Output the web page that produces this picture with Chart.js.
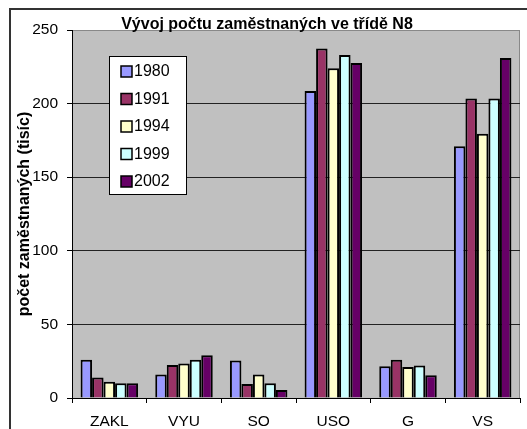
<!DOCTYPE html>
<html>
<head>
<meta charset="utf-8">
<script src="https://cdn.jsdelivr.net/npm/chart.js@4/dist/chart.umd.min.js"></script>
<style>
  html, body { margin: 0; padding: 0; background: #fff; }
  #wrap { width: 527px; height: 429px; position: relative; }
</style>
</head>
<body>
<div id="wrap"><canvas id="myChart" width="527" height="429"></canvas></div>
<script>
const categories = ["ZAKL", "VYU", "SO", "USO", "G", "VS"];
const years = ["1980", "1991", "1994", "1999", "2002"];
const v1980 = [26, 16, 25.5, 208.5, 21.5, 171];
const v1991 = [14, 22.5, 9.5, 237.5, 26, 203.5];
const v1994 = [11, 23.5, 16, 224, 21, 179.5];
const v1999 = [10, 26, 10, 233, 22, 203.5];
const v2002 = [10, 29, 5.5, 227.5, 15.5, 231];
const yTicks = [0, 50, 100, 150, 200, 250];
const colors = ["#9999FF", "#993366", "#FFFFCC", "#CCFFFF", "#660066"];

const FONT = "'Liberation Sans', Arial, sans-serif";
Chart.defaults.font.family = FONT;
Chart.defaults.color = "#000";

// gray plot background, outer frame, title and the boxed legend
const decor = {
  id: 'decor',
  beforeDraw(chart) {
    const c = chart.ctx, a = chart.chartArea;
    c.save();
    c.fillStyle = '#fff';
    c.fillRect(0, 0, chart.width, chart.height);
    c.strokeStyle = '#333';
    c.lineWidth = 2;
    c.strokeRect(10, 9, 700, 700);
    c.fillStyle = '#C0C0C0';
    c.fillRect(a.left, a.top, a.right - a.left, a.bottom - a.top);
    c.strokeStyle = '#888';
    c.lineWidth = 1;
    c.beginPath();
    c.moveTo(a.left, a.top + 0.5);
    c.lineTo(a.right - 0.5, a.top + 0.5);
    c.lineTo(a.right - 0.5, a.bottom);
    c.stroke();
    c.restore();
  },
  afterDraw(chart) {
    const c = chart.ctx;
    c.save();
    c.fillStyle = '#000';
    c.font = 'bold 16px ' + FONT;
    c.textAlign = 'center';
    c.textBaseline = 'alphabetic';
    c.fillText('Vývoj počtu zaměstnaných ve třídě N8', 267, 29);

    // legend
    c.fillStyle = '#fff';
    c.fillRect(109, 56, 77, 138);
    c.strokeStyle = '#000';
    c.lineWidth = 1;
    c.strokeRect(109.5, 56.5, 77, 138);
    c.font = '16px ' + FONT;
    c.textAlign = 'left';
    c.textBaseline = 'middle';
    chart.data.datasets.forEach((ds, i) => {
      const y = 71 + i * 27.5;
      c.fillStyle = ds.backgroundColor;
      c.fillRect(121, y - 5, 11, 11);
      c.strokeStyle = '#000';
      c.lineWidth = 1.5;
      c.strokeRect(121, y - 5, 11, 11);
      c.fillStyle = '#000';
      c.fillText(ds.label, 134, y + 1);
    });
    c.restore();
  }
};

const seriesValues = [v1980, v1991, v1994, v1999, v2002];
const datasets = years.map((y, i) => ({
  label: y,
  data: seriesValues[i],
  backgroundColor: colors[i],
  borderColor: '#000',
  borderWidth: 2,
  borderSkipped: 'bottom',
  categoryPercentage: 0.77,
  barPercentage: 1.0
}));

var ctx = document.getElementById('myChart').getContext('2d');
var chart = new Chart(ctx, {
  type: 'bar',
  data: { labels: categories, datasets: datasets },
  plugins: [decor],
  options: {
    responsive: false,
    animation: false,
    layout: { padding: { top: 30, right: 7, left: 0, bottom: 0 } },
    plugins: {
      legend: { display: false },
      title: { display: false },
      tooltip: { enabled: false }
    },
    scales: {
      x: {
        offset: true,
        grid: {
          offset: true,
          drawOnChartArea: false,
          drawTicks: true,
          tickLength: 5,
          color: '#000',
          tickColor: '#000'
        },
        border: { color: '#000', width: 1 },
        ticks: { font: { size: 15.5 }, padding: 9, maxRotation: 0 },
        afterFit(scale) { scale.height = 31; }
      },
      y: {
        min: 0,
        max: 250,
        afterBuildTicks(scale) { scale.ticks = yTicks.map(v => ({ value: v })); },
        grid: {
          color: (c) => (c.tick && c.tick.value === 250) ? '#888' : '#222',
          tickColor: '#000',
          tickLength: 5,
          drawTicks: true
        },
        border: { color: '#000', width: 1 },
        ticks: { font: { size: 15.5 }, padding: 9 },
        title: {
          display: true,
          text: 'počet zaměstnaných (tisíc)',
          font: { size: 16, weight: 'bold' },
          padding: { top: 15, bottom: 0 }
        },
        afterFit(scale) { scale.width = 72; }
      }
    }
  }
});
</script>
</body>
</html>
